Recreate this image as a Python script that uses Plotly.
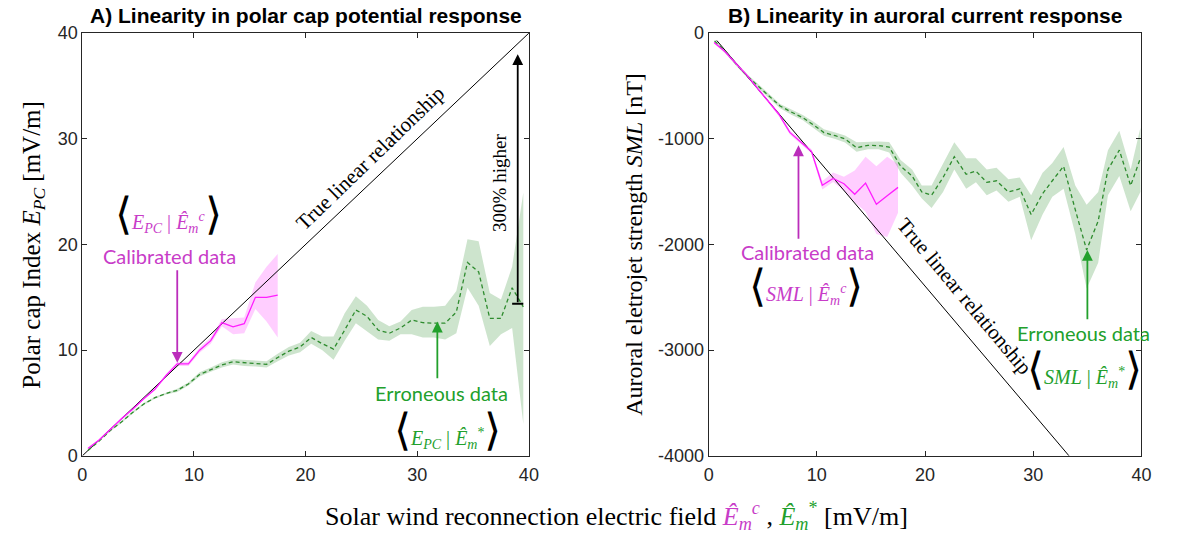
import plotly.graph_objects as go

# ---------------- Panel A: polar cap index ----------------
calib_x_a = [0.5, 1.5, 2.5, 3.5, 4.5, 5.5, 6.5, 7.5, 8.5, 9.5, 10.5, 11.5, 12.5, 13.5, 14.5, 15.5, 16.5, 17.5]
calib_y_a = [0.7, 1.5, 2.5, 3.5, 4.4, 5.4, 6.3, 7.6, 8.7, 8.7, 10.0, 10.9, 12.6, 12.2, 12.5, 15.0, 15.0, 15.2]
calib_lo_a = [0.6, 1.4, 2.4, 3.4, 4.3, 5.3, 6.2, 7.45, 8.5, 8.5, 9.75, 10.6, 12.25, 11.5, 11.6, 13.9, 12.7, 11.2]
calib_hi_a = [0.8, 1.6, 2.6, 3.6, 4.5, 5.5, 6.4, 7.75, 8.9, 8.9, 10.25, 11.2, 12.95, 13.0, 13.1, 16.4, 17.9, 19.1]

err_x_a = [0.5, 1.5, 2.5, 3.5, 4.5, 5.5, 6.5, 7.5, 8.5, 9.5, 10.5, 11.5, 12.5, 13.5, 14.5, 15.5, 16.5, 17.5, 18.5, 19.5,
           20.5, 21.5, 22.5, 23.5, 24.5, 25.5, 26.5, 27.5, 28.5, 29.5, 30.5, 31.5, 32.5, 33.5, 34.5, 35.5, 36.5, 37.5, 38.5, 39.5]
err_y_a = [0.5, 1.4, 2.4, 3.2, 4.1, 4.9, 5.5, 5.9, 6.2, 6.8, 7.7, 8.15, 8.6, 8.9, 8.8, 8.75, 8.65, 9.3, 9.9, 10.3,
           11.2, 10.6, 10.1, 11.9, 13.8, 13.2, 11.9, 11.6, 12.1, 12.85, 12.6, 12.55, 12.55, 13.6, 18.3, 17.4, 13.0, 13.0, 15.9, 14.1]
err_lo_a = [0.45, 1.35, 2.3, 3.1, 4.0, 4.8, 5.4, 5.8, 6.05, 6.65, 7.5, 7.95, 8.35, 8.65, 8.5, 8.45, 8.35, 8.95, 9.5, 9.8,
            10.6, 10.0, 9.1, 10.9, 12.55, 11.8, 11.0, 10.9, 11.5, 11.5, 11.2, 11.2, 11.0, 11.6, 15.9, 14.2, 10.4, 11.5, 12.1, 3.0]
err_hi_a = [0.55, 1.45, 2.5, 3.3, 4.2, 5.0, 5.6, 6.0, 6.35, 6.95, 7.9, 8.35, 8.85, 9.15, 9.1, 9.05, 8.95, 9.65, 10.3, 10.7,
            11.8, 11.3, 11.3, 13.5, 15.1, 14.2, 12.85, 12.25, 12.7, 13.8, 14.1, 14.1, 14.2, 15.6, 20.5, 20.3, 15.4, 14.8, 17.9, 24.9]

true_x_a = [0, 40]
true_y_a = [0, 40]

# "300% higher" bracket: green level at the right edge vs. the true line
gap_x = 39.0
gap_low = 14.4
gap_high = 38.0

# ---------------- Panel B: auroral electrojet ----------------
calib_x_b = [0.5, 1.5, 2.5, 3.5, 4.5, 5.5, 6.5, 7.5, 8.5, 9.5, 10.5, 11.5, 12.5, 13.5, 14.5, 15.5, 16.5, 17.5]
calib_y_b = [-90, -175, -285, -395, -520, -640, -770, -940, -1030, -1120, -1440, -1375, -1425, -1525, -1420, -1620, -1540, -1460]
calib_lo_b = [-100, -190, -300, -410, -535, -655, -790, -960, -1050, -1140, -1480, -1410, -1490, -1600, -1690, -1900, -1930, -1700]
calib_hi_b = [-80, -160, -270, -380, -505, -625, -750, -920, -1010, -1100, -1400, -1320, -1360, -1300, -1170, -1260, -1170, -1240]

err_x_b = [0.55, 1.6, 2.6, 3.6, 4.5, 5.5, 6.6, 7.6, 8.7, 9.7, 10.65, 11.7, 12.6, 13.67, 14.72, 15.7, 16.68, 17.74, 18.8, 19.7,
           20.6, 21.66, 22.7, 23.8, 24.7, 25.7, 26.6, 27.7, 28.75, 29.8, 30.86, 31.76, 32.8, 33.88, 34.93, 36.0, 36.9, 37.95, 39.0, 39.9]
err_y_b = [-75, -180, -300, -410, -495, -590, -690, -745, -800, -870, -941, -971, -1002, -1084, -1062, -1065, -1078, -1260, -1352, -1504,
           -1534, -1367, -1169, -1336, -1306, -1412, -1397, -1504, -1473, -1717, -1519, -1397, -1260, -1671, -2052, -1778, -1291, -1108, -1443, -1184]
err_lo_b = [-85, -195, -315, -425, -515, -610, -710, -770, -825, -900, -971, -1002, -1035, -1123, -1100, -1100, -1130, -1321, -1443, -1565,
            -1656, -1504, -1290, -1473, -1412, -1534, -1489, -1595, -1549, -1960, -1717, -1549, -1473, -1900, -2417, -2173, -1534, -1352, -1686, -1504]
err_hi_b = [-65, -165, -285, -395, -475, -570, -670, -720, -775, -840, -910, -940, -970, -1032, -1025, -1025, -1030, -1200, -1290, -1443,
            -1443, -1230, -1032, -1184, -1184, -1290, -1275, -1382, -1367, -1534, -1321, -1230, -1078, -1443, -1625, -1504, -1108, -925, -1290, -895]

true_x_b = [0.75, 33.3]
true_y_b = [-70, -4000]

# tick labels
ticks_a = [0, 10, 20, 30, 40]
tick_text_a = ["0", "10", "20", "30", "40"]
ticks_sml = [0, -1000, -2000, -3000, -4000]
tick_text_sml = ["0", "-1000", "-2000", "-3000", "-4000"]

# ---------------- styling ----------------
MAGENTA = "#FF1EFF"
MAGENTA_FILL = "rgba(255,60,255,0.25)"
MAGENTA_TXT = "#C83CC8"
MAGENTA_ARROW = "#BB2DBB"
GREEN = "#2E8B2E"
GREEN_FILL = "rgba(60,150,60,0.26)"
GREEN_TXT = "#22A02C"
AXIS = "#262626"
SERIF = "Liberation Serif"
SANS = "Lato"
TICKFONT = dict(family="Liberation Sans", size=18, color=AXIS)


def band(x, lo, hi, color, xa, ya):
    return go.Scatter(x=list(x) + list(x)[::-1], y=list(hi) + list(lo)[::-1],
                      fill="toself", fillcolor=color, line=dict(width=0),
                      mode="lines", hoverinfo="skip", xaxis=xa, yaxis=ya)


fig = go.Figure()

# panel A
fig.add_trace(band(err_x_a, err_lo_a, err_hi_a, GREEN_FILL, "x", "y"))
fig.add_trace(band(calib_x_a, calib_lo_a, calib_hi_a, MAGENTA_FILL, "x", "y"))
fig.add_trace(go.Scatter(x=true_x_a, y=true_y_a, mode="lines", line=dict(color="black", width=1), xaxis="x", yaxis="y"))
fig.add_trace(go.Scatter(x=err_x_a, y=err_y_a, mode="lines", line=dict(color=GREEN, width=1.3, dash="4px,3px"), xaxis="x", yaxis="y"))
fig.add_trace(go.Scatter(x=calib_x_a, y=calib_y_a, mode="lines", line=dict(color=MAGENTA, width=1.3), xaxis="x", yaxis="y"))

# panel B
fig.add_trace(band(err_x_b, err_lo_b, err_hi_b, GREEN_FILL, "x2", "y2"))
fig.add_trace(band(calib_x_b, calib_lo_b, calib_hi_b, MAGENTA_FILL, "x2", "y2"))
fig.add_trace(go.Scatter(x=true_x_b, y=true_y_b, mode="lines", line=dict(color="black", width=1), xaxis="x2", yaxis="y2"))
fig.add_trace(go.Scatter(x=err_x_b, y=err_y_b, mode="lines", line=dict(color=GREEN, width=1.3, dash="4px,3px"), xaxis="x2", yaxis="y2"))
fig.add_trace(go.Scatter(x=calib_x_b, y=calib_y_b, mode="lines", line=dict(color=MAGENTA, width=1.3), xaxis="x2", yaxis="y2"))

axis_common = dict(showgrid=False, zeroline=False, showline=True, linecolor=AXIS, linewidth=1,
                   mirror="ticks", ticks="inside", ticklen=5, tickcolor=AXIS, tickfont=TICKFONT)

Y_DOM = [0.141, 0.9555]
fig.update_layout(
    width=1187, height=539, margin=dict(l=0, r=0, t=0, b=0),
    paper_bgcolor="white", plot_bgcolor="white", showlegend=False,
    xaxis=dict(domain=[0.066, 0.447], range=[0, 40], tickvals=ticks_a, ticktext=tick_text_a, anchor="y",
               ticklabelstandoff=3, **axis_common),
    yaxis=dict(domain=Y_DOM, range=[0, 40], tickvals=ticks_a, ticktext=tick_text_a, anchor="x", **axis_common),
    xaxis2=dict(domain=[0.6004, 0.9697], range=[0, 40], tickvals=ticks_a, ticktext=tick_text_a, anchor="y2",
                ticklabelstandoff=3, **axis_common),
    yaxis2=dict(domain=Y_DOM, range=[-4000, 0], tickvals=ticks_sml, ticktext=tick_text_sml, anchor="x2", **axis_common),
)


def bracketed(inner, color):
    return ('<span style="color:#000;font-size:44px">⟨</span>'
            f'<span style="color:{color}">{inner}</span>'
            '<span style="color:#000;font-size:44px">⟩</span>')


ann = []


def txt(text, x, y, xref, yref, size, family, color="black", angle=0, **kw):
    ann.append(dict(text=text, x=x, y=y, xref=xref, yref=yref, showarrow=False,
                    font=dict(size=size, family=family, color=color), textangle=angle,
                    xanchor="center", yanchor="middle", **kw))


def arrow(x, y, tx, ty, xref, yref, color, width=1.8):
    ann.append(dict(text="", x=x, y=y, ax=tx, ay=ty, xref=xref, yref=yref, axref=xref, ayref=yref,
                    showarrow=True, arrowhead=2, arrowsize=1.2, arrowwidth=width, arrowcolor=color))


E_HAT = "<i>Ê</i><sub><i>m</i></sub>"

# titles
txt("<b>A) Linearity in polar cap potential response</b>", 0.257, 0.99, "paper", "paper", 21, "Liberation Sans")
txt("<b>B) Linearity in auroral current response</b>", 0.785, 0.99, "paper", "paper", 21, "Liberation Sans")

# axis titles
txt("Polar cap Index <i>E</i><sub><i>PC</i></sub> [mV/m]", 0.024, 0.548, "paper", "paper", 25, SERIF, angle=-90)
txt("Auroral eletrojet strength <i>SML</i> [nT]", 0.536, 0.548, "paper", "paper", 24, SERIF, angle=-90)
txt("Solar wind reconnection electric field "
    f'<span style="color:{MAGENTA_TXT}">{E_HAT}<sup><i>c</i></sup></span> , '
    f'<span style="color:{GREEN_TXT}">{E_HAT}<sup>*</sup></span> [mV/m]',
    0.522, 0.026, "paper", "paper", 26, SERIF)

# panel A annotations
txt("True linear relationship", 25.8, 28.2, "x", "y", 21, SERIF, angle=-44)
txt("300% higher", 37.3, 25.8, "x", "y", 19, SERIF, angle=-90)
arrow(gap_x, gap_high, gap_x, gap_low, "x", "y", "black", 1.8)
fig.add_shape(type="line", x0=gap_x - 0.5, x1=gap_x + 0.5, y0=gap_low, y1=gap_low,
              xref="x", yref="y", line=dict(color="black", width=2))
txt("Calibrated data", 7.8, 18.9, "x", "y", 20, SANS, MAGENTA_TXT)
txt(bracketed(f"<i>E</i><sub><i>PC</i></sub> | {E_HAT}<sup><i>c</i></sup>", MAGENTA_TXT), 7.7, 22.8, "x", "y", 20, SERIF)
arrow(8.5, 8.8, 8.5, 17.7, "x", "y", MAGENTA_ARROW)
txt("Erroneous data", 32.2, 5.9, "x", "y", 20, SANS, GREEN_TXT)
txt(bracketed(f"<i>E</i><sub><i>PC</i></sub> | {E_HAT}<sup>*</sup>", GREEN_TXT), 32.7, 2.4, "x", "y", 20, SERIF)
arrow(31.8, 12.7, 31.8, 7.2, "x", "y", GREEN_TXT)

# panel B annotations
txt("True linear relationship", 23.6, -2492, "x2", "y2", 21, SERIF, angle=50)
txt("Calibrated data", 9.1, -2067, "x2", "y2", 20, SANS, MAGENTA_TXT)
txt(bracketed(f"<i>SML</i> | {E_HAT}<sup><i>c</i></sup>", MAGENTA_TXT), 9.0, -2400, "x2", "y2", 20, SERIF)
arrow(8.3, -1062, 8.3, -1960, "x2", "y2", MAGENTA_ARROW)
txt("Erroneous data", 34.6, -2837, "x2", "y2", 20, SANS, GREEN_TXT)
txt(bracketed(f"<i>SML</i> | {E_HAT}<sup>*</sup>", GREEN_TXT), 34.7, -3180, "x2", "y2", 20, SERIF)
arrow(35.0, -2052, 35.0, -2721, "x2", "y2", GREEN_TXT)

fig.update_layout(annotations=ann)
fig.write_html("out.html")
